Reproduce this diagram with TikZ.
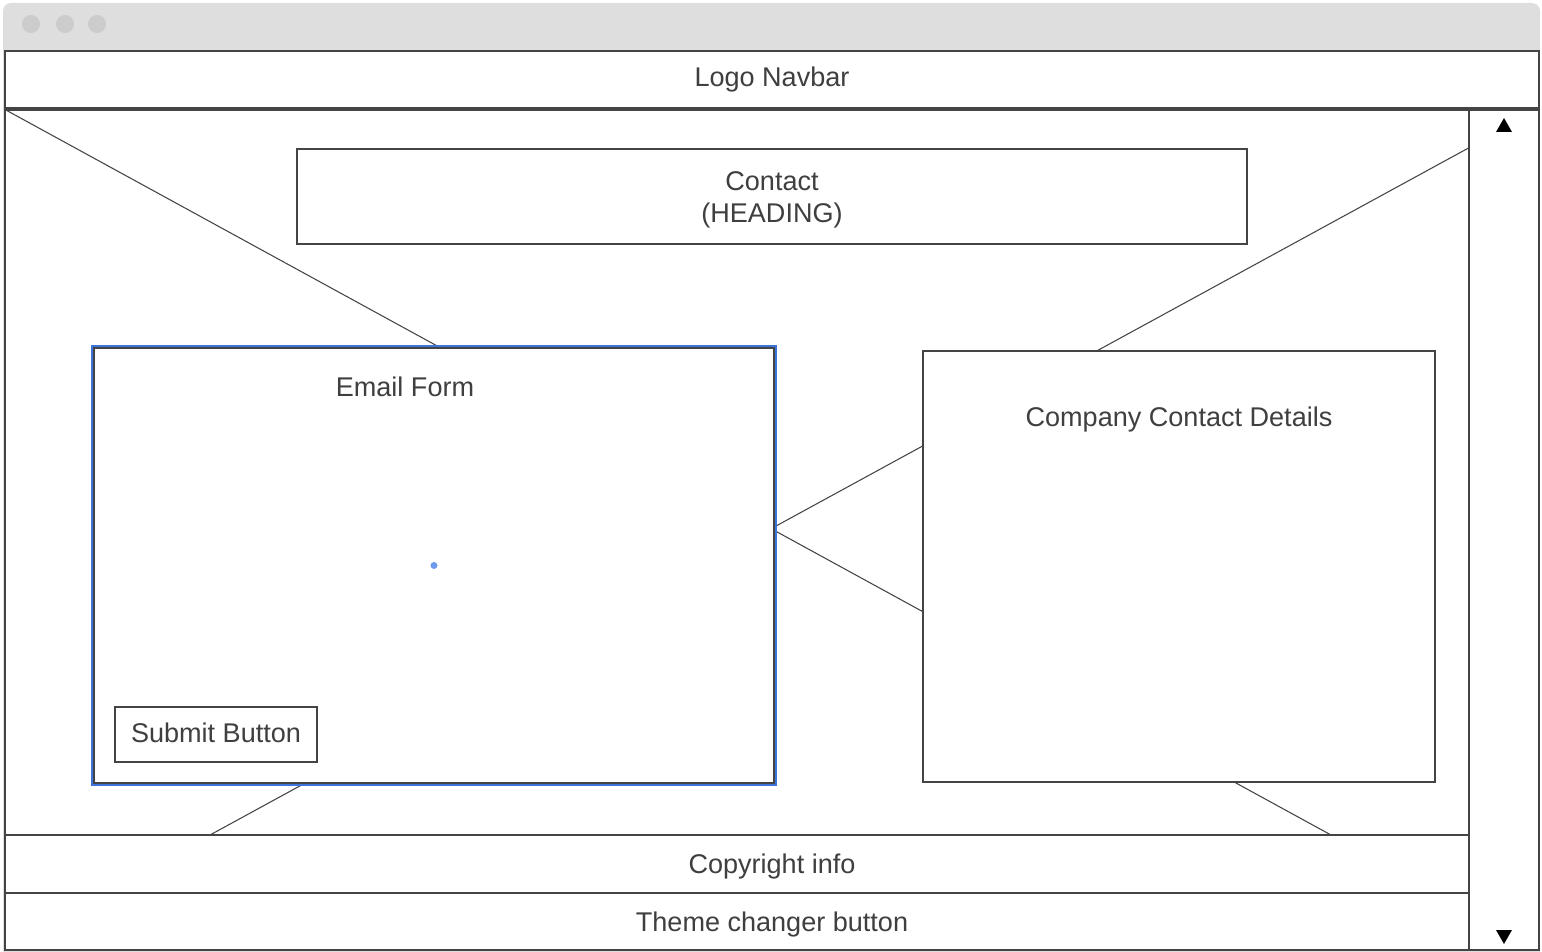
\documentclass[tikz,border=0pt]{standalone}
\usepackage{fontspec}
\setmainfont{Liberation Sans}
\definecolor{ink}{HTML}{444444}
\definecolor{chrome}{HTML}{DEDEDE}
\definecolor{dotgray}{HTML}{CCCCCC}
\definecolor{selblue}{HTML}{3C74DB}
\definecolor{dotblue}{HTML}{6F9BEF}
\definecolor{txtgray}{HTML}{3F3F3F}

\begin{document}
\begin{tikzpicture}[x=0.02cm,y=-0.02cm,font=\fontsize{15.4}{18.2}\selectfont]
\tikzstyle{frame}=[draw=ink,line width=1.15pt,fill=white,inner sep=0pt,text=txtgray]
\tikzstyle{box}=[draw=ink,line width=0.85pt,fill=white,inner sep=0pt,text=txtgray,align=center]
\tikzstyle{txt}=[inner sep=0pt,text=txtgray,align=center]
\tikzstyle{cross}=[draw=ink,line width=0.6pt]

\useasboundingbox (0,0) rectangle (1542,952);

% window chrome
\fill[chrome,rounded corners=0.16cm] (3,3) rectangle (1540,60);
\fill[chrome] (3,40) rectangle (1540,952);
\foreach \x in {31,65,97}
  \fill[dotgray] (\x,24) circle (0.18cm);

% page regions
\node[frame,minimum width=30.68cm,minimum height=1.14cm] (navbar) at (772,79.5) {Logo Navbar};
\node[frame,minimum width=30.68cm,minimum height=14.5cm] (main) at (772,472.5) {};
\node[frame,minimum width=30.68cm,minimum height=1.16cm,text depth=0pt] (copyright) at (772,864) {Copyright info};
\node[frame,minimum width=30.68cm,minimum height=1.14cm,text depth=0pt] (theme) at (772,921.5) {Theme changer button};

% placeholder cross
\coordinate (xa) at (1331,835);
\coordinate (xc) at (210,835);
\draw[cross] (main.north west) -- (xa);
\draw[cross] (main.north east) -- (xc);

% scrollbar
\node[frame,minimum width=1.4cm,minimum height=16.8cm] (scroll) at (1504,530) {};
\fill[black] (1504,118) -- (1512,132) -- (1496,132) -- cycle;
\fill[black] (1504,944) -- (1512,930) -- (1496,930) -- cycle;

% content
\node[box,minimum width=19cm,minimum height=1.9cm] (heading) at (772,196.5) {};
\node[txt] (headingtext) at (772,199.5) {Contact\\(HEADING)};
\node[box,line width=1.15pt,minimum width=13.6cm,minimum height=8.7cm] (email) at (434,565.5) {};
\draw[selblue,line width=1.1pt] ([xshift=-0.02cm,yshift=0.02cm]email.north west) rectangle ([xshift=0.02cm,yshift=-0.02cm]email.south east);
\fill[dotblue] (email.center) circle (0.07cm);
\node[txt] (emailtitle) at (405,387) {Email Form};
\node[box,minimum width=4.04cm,minimum height=1.1cm] (submit) at (216,734.5) {};
\node[txt] (submittext) at (216,733) {Submit Button};
\node[box,minimum width=10.24cm,minimum height=8.62cm] (company) at (1179,566.5) {};
\node[txt] (companytitle) at (1179,420) {Company Contact Details};
\end{tikzpicture}
\end{document}
